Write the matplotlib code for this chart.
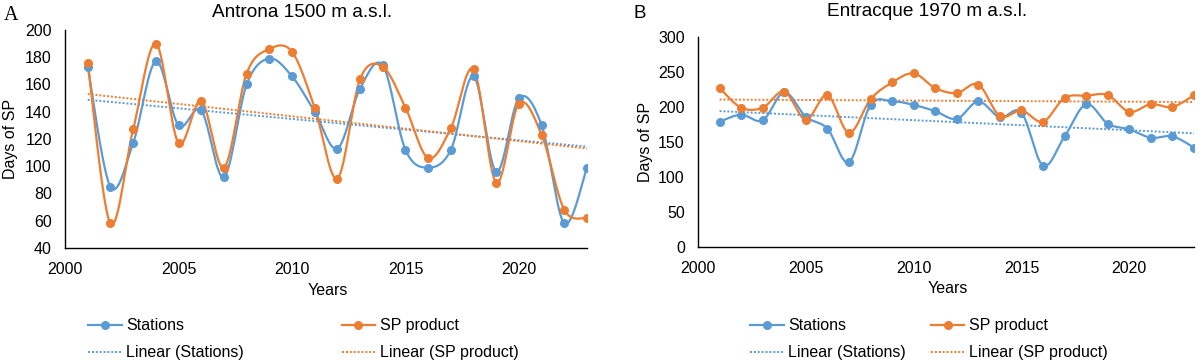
import numpy as np
import matplotlib
matplotlib.use("Agg")
import matplotlib.pyplot as plt
from matplotlib.lines import Line2D

plt.rcParams['font.family'] = ['Liberation Sans', 'DejaVu Sans']

years = list(range(2001, 2024))

# Antrona 1500 m a.s.l.
antrona_stations = [173, 85, 117, 177, 130, 141, 92, 160, 179, 166, 140, 113,
                    157, 174, 112, 99, 112, 166, 96, 150, 130, 58, 99]
antrona_sp = [176, 58, 127, 190, 117, 148, 99, 168, 186, 184, 143, 91,
              164, 173, 143, 106, 128, 171, 88, 146, 123, 68, 62]

# Entracque 1970 m a.s.l.
entracque_stations = [179, 189, 181, 221, 186, 169, 121, 203, 208, 203, 194, 183,
                      208, 185, 192, 116, 158, 204, 176, 168, 156, 158, 142]
entracque_sp = [227, 199, 199, 222, 182, 217, 163, 211, 235, 248, 227, 220,
                232, 187, 195, 179, 213, 216, 217, 193, 204, 200, 217]

BLUE = "#5B9BD5"
ORANGE = "#ED7D31"
FS = 11.5


def smooth(x, y, n=30):
    # Excel-like smoothed line (Catmull-Rom as cubic Bezier)
    x = np.asarray(x, float)
    y = np.asarray(y, float)
    pts = np.column_stack([x, y])
    ext = np.vstack([pts[0], pts, pts[-1]])
    out = []
    t = np.linspace(0, 1, n)[:, None]
    for i in range(len(pts) - 1):
        p0, p3 = ext[i + 1], ext[i + 2]
        c1 = p0 + (ext[i + 2] - ext[i]) / 6
        c2 = p3 - (ext[i + 3] - ext[i + 1]) / 6
        seg = ((1 - t) ** 3) * p0 + 3 * ((1 - t) ** 2) * t * c1 + 3 * (1 - t) * t ** 2 * c2 + t ** 3 * p3
        out.append(seg if i == 0 else seg[1:])
    out = np.vstack(out)
    return out[:, 0], out[:, 1]


def panel(ax, st, sp, ylim, yticks, title, title_x, title_y, leg_x, leg_y, colspace):
    yr = np.array(years)
    for vals, c in [(st, BLUE), (sp, ORANGE)]:
        sx, sy = smooth(yr, vals)
        ax.plot(sx, sy, color=c, lw=1.6, zorder=3)
        ax.plot(yr, vals, 'o', color=c, ms=5.5, zorder=4)
    for vals, c in [(st, BLUE), (sp, ORANGE)]:
        k, b = np.polyfit(yr, vals, 1)
        ax.plot(yr, k * yr + b, color=c, lw=1.4, ls=(0, (1, 1)), zorder=2)

    ax.set_xlim(2000, 2023)
    ax.set_ylim(*ylim)
    ax.set_xticks([2000, 2005, 2010, 2015, 2020])
    ax.set_yticks(yticks)
    for s in ['top', 'right']:
        ax.spines[s].set_visible(False)
    for s in ['left', 'bottom']:
        ax.spines[s].set_linewidth(1.0)
        ax.spines[s].set_color('black')
    ax.tick_params(axis='both', length=0, labelsize=FS)
    ax.tick_params(axis='y', pad=9.5)
    ax.tick_params(axis='x', pad=10)
    ax.set_ylabel("Days of SP", fontsize=FS)
    ax.yaxis.set_label_coords(-0.09, 0.5)
    ax.set_xlabel("Years", fontsize=FS)
    ax.xaxis.set_label_coords(0.503, -0.16)
    ax.set_title(title, fontsize=13.7, x=title_x, y=title_y, va='baseline', pad=0)

    handles = [
        Line2D([], [], color=BLUE, lw=1.6, marker='o', ms=5.5),
        Line2D([], [], color=BLUE, lw=1.4, ls=(0, (1, 1))),
        Line2D([], [], color=ORANGE, lw=1.6, marker='o', ms=5.5),
        Line2D([], [], color=ORANGE, lw=1.4, ls=(0, (1, 1))),
    ]
    labels = ["Stations", "Linear (Stations)", "SP product", "Linear (SP product)"]
    ax.legend(handles, labels, ncol=2, loc='upper left', bbox_to_anchor=(leg_x, leg_y),
              frameon=False, fontsize=FS, handlelength=2.1, handletextpad=0.3,
              borderpad=0, borderaxespad=0, labelspacing=0.75, columnspacing=colspace)


fig = plt.figure(figsize=(12, 3.61), dpi=100)
axA = fig.add_axes([0.0542, 0.313, 0.4350, 0.604])
axB = fig.add_axes([0.5817, 0.316, 0.4133, 0.5815])

panel(axA, antrona_stations, antrona_sp, (40, 200), range(40, 201, 20),
      "Antrona 1500 m a.s.l.", 0.455, 1.06, 0.044, -0.323, 6.1)
panel(axB, entracque_stations, entracque_sp, (0, 300), range(0, 301, 50),
      "Entracque 1970 m a.s.l.", 0.461, 1.10, 0.105, -0.34, 1.55)

fig.text(0.003, 1 - 20 / 361, "A", family=['Liberation Serif', 'DejaVu Serif'],
         fontsize=14.5, va='baseline', ha='left')
fig.text(0.528, 1 - 18 / 361, "B", fontsize=13.5, va='baseline', ha='left')

fig.savefig("out.png", dpi=100)
